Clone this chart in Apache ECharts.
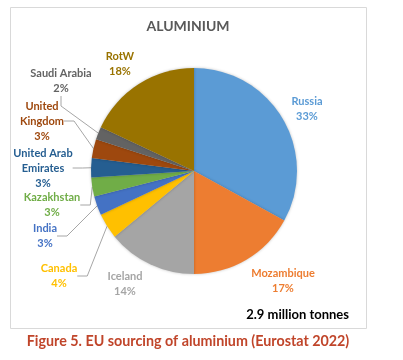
<!DOCTYPE html>
<html><head><meta charset="utf-8">
<script src="https://cdn.jsdelivr.net/npm/echarts@6/dist/echarts.min.js"></script>
<style>html,body{margin:0;padding:0;background:#fff}#c{width:403px;height:360px}</style>
</head><body><div id="c"></div>
<script>
// Data
const categories = ['Russia','Mozambique','Iceland','Canada','India','Kazakhstan','United Arab\nEmirates','United\nKingdom','Saudi Arabia','RotW'];
const shares = [33,17,14,4,3,3,3,3,2,18];
const colors = ['#5B9BD5','#ED7D31','#A5A5A5','#FFC000','#4472C4','#70AD47','#255E91','#9E480E','#636363','#997300'];
const labelColors = ['#5B9BD5','#ED7D31','#A5A5A5','#FFC000','#4472C4','#70AD47','#255E91','#9E480E','#636363','#997300'];
const hasLeader = [false,false,false,true,true,true,true,true,true,false];
// label anchor positions (layout only)
const labelPos = [[307,109],[283,281],[125,284],[59,276],[45,236],[52,205],[43,168],[42,121],[61,81],[120,64]];

const chart = echarts.init(document.getElementById('c'), null, {renderer:'canvas'});
const font = 'Lato, "Open Sans", sans-serif';
chart.setOption({
  animation:false,
  graphic:[
    {type:'rect', shape:{x:10.5,y:7.5,width:356,height:321}, style:{fill:'none',stroke:'#D9D9D9',lineWidth:1}, z:-1},
    {type:'text', x:188, y:26, style:{text:'ALUMINIUM', font:'bold 14px '+font, fill:'#595959', textAlign:'center', textVerticalAlign:'middle'}},
    {type:'text', x:349, y:315, style:{text:'2.9 million tonnes', font:'bold 13px '+font, fill:'#000', textAlign:'right', textVerticalAlign:'middle'}},
    {type:'text', x:188, y:341, style:{text:'Figure 5. EU sourcing of aluminium (Eurostat 2022)', font:'bold 14.3px '+font, fill:'#C0452A', textAlign:'center', textVerticalAlign:'middle'}}
  ],
  series:[{
    type:'pie',
    center:[194,171],
    radius:[0,103],
    startAngle:90,
    clockwise:true,
    percentPrecision:0,
    avoidLabelOverlap:false,
    itemStyle:{borderWidth:0, shadowBlur:3, shadowColor:'rgba(0,0,0,0.25)'},
    label:{show:true, formatter:'{b}\n{d}%', fontFamily:font, fontWeight:'bold', fontSize:11, lineHeight:15, align:'center'},
    labelLine:{show:true, length:10, length2:10, lineStyle:{color:'#A6A6A6', width:1}},
    labelLayout:function(p){const q=labelPos[p.dataIndex];return {x:q[0],y:q[1],align:'center',verticalAlign:'middle'};},
    data:categories.map((n,i)=>({name:n, value:shares[i], itemStyle:{color:colors[i]}, label:{color:labelColors[i]}, labelLine:{show:hasLeader[i]}}))
  }]
});
</script></body></html>
